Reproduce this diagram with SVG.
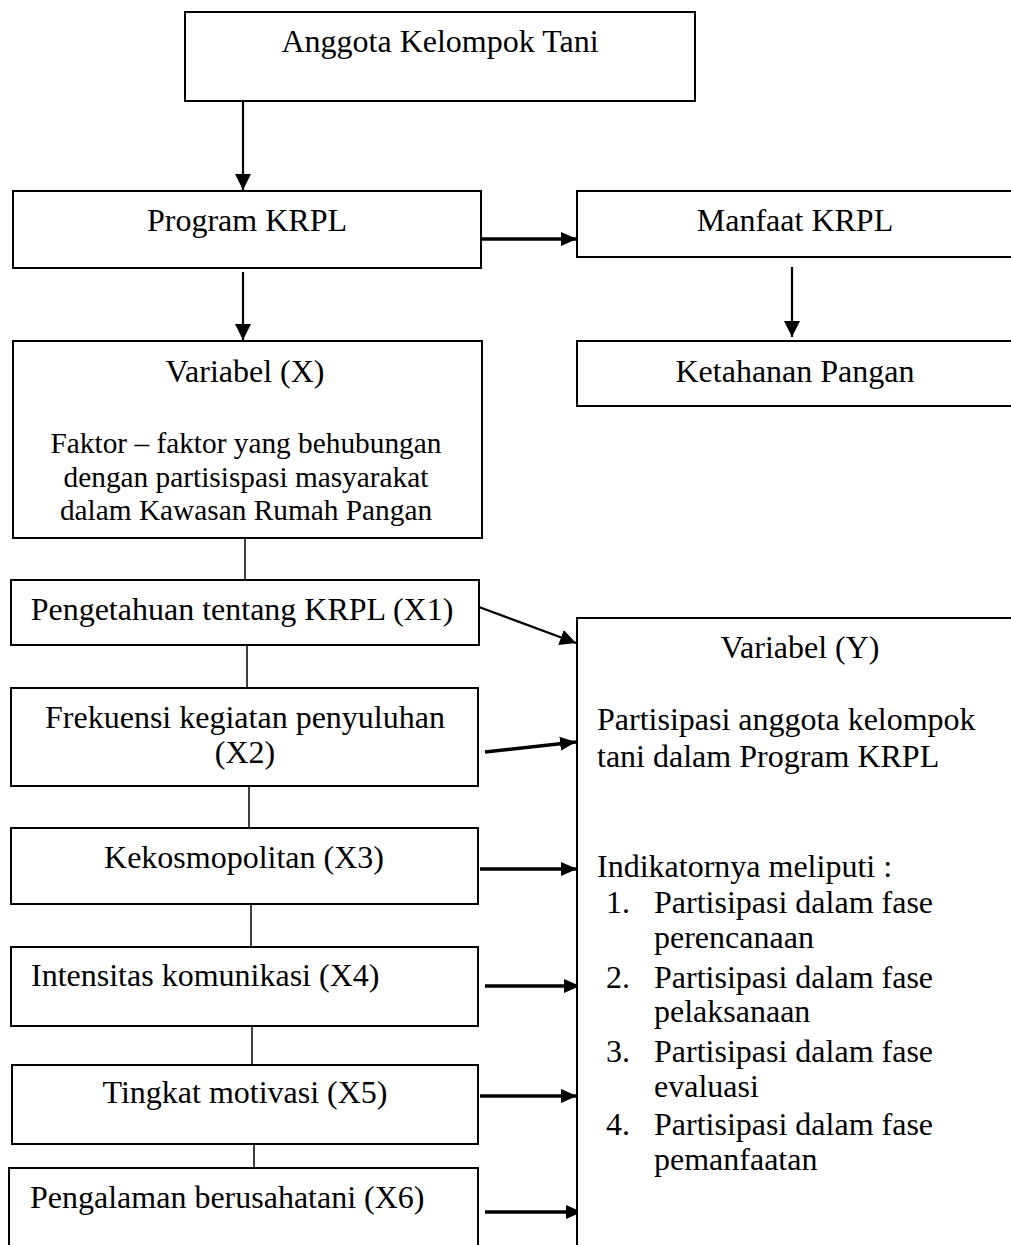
<svg xmlns="http://www.w3.org/2000/svg" width="1011" height="1245" viewBox="0 0 1011 1245">
<style>
  .box { fill: #ffffff; stroke: #000000; stroke-width: 2; }
  .t { font-family: "Liberation Serif", "Times New Roman", serif; font-size: 32px; fill: #000000; }
  .s { font-size: 29.33px; }
  .m { text-anchor: middle; }
  .c { stroke: #000000; fill: none; }
  .thin { stroke-width: 1.5; }
  .v { stroke-width: 2.2; }
  .h { stroke-width: 3.5; }
</style>
<defs>
  <marker id="ah" markerUnits="userSpaceOnUse" markerWidth="16" markerHeight="16" viewBox="0 0 16 16" refX="16" refY="8" orient="auto">
    <path d="M0,0 L16,8 L0,16 Z" fill="#000000"/>
  </marker>
  <marker id="ah2" markerUnits="userSpaceOnUse" markerWidth="16" markerHeight="16" viewBox="0 0 16 16" refX="16" refY="8" orient="auto">
    <path d="M0,1 L16,8 L0,15 Z" fill="#000000"/>
  </marker>
</defs>
<rect width="1011" height="1245" fill="#ffffff"/>

<g id="connectors">
  <line class="c v" x1="243" y1="101" x2="243" y2="190" marker-end="url(#ah)"/>
  <line class="c h" x1="481" y1="239" x2="577" y2="239" marker-end="url(#ah2)"/>
  <line class="c v" x1="243" y1="272" x2="243" y2="340" marker-end="url(#ah)"/>
  <line class="c v" x1="792" y1="267" x2="792" y2="337" marker-end="url(#ah)"/>
  <line class="c thin" x1="245" y1="538" x2="245" y2="580"/>
  <line class="c v" x1="479" y1="607" x2="576" y2="643" marker-end="url(#ah)"/>
  <line class="c thin" x1="247" y1="645" x2="247" y2="688"/>
  <line class="c h" x1="485" y1="752" x2="576" y2="742" marker-end="url(#ah2)"/>
  <line class="c thin" x1="249" y1="786" x2="249" y2="828"/>
  <line class="c h" x1="480" y1="869" x2="577" y2="869" marker-end="url(#ah2)"/>
  <line class="c thin" x1="251" y1="904" x2="251" y2="947"/>
  <line class="c h" x1="485" y1="986" x2="580" y2="986" marker-end="url(#ah2)"/>
  <line class="c thin" x1="252" y1="1026" x2="252" y2="1065"/>
  <line class="c h" x1="480" y1="1096" x2="577" y2="1096" marker-end="url(#ah2)"/>
  <line class="c thin" x1="254" y1="1144" x2="254" y2="1168"/>
  <line class="c h" x1="485" y1="1212" x2="582" y2="1212" marker-end="url(#ah2)"/>
</g>

<g id="anggota">
  <rect class="box" x="185" y="12" width="510" height="89"/>
  <text class="t m" x="440" y="52">Anggota Kelompok Tani</text>
</g>

<g id="program">
  <rect class="box" x="13" y="191" width="468" height="77"/>
  <text class="t m" x="247" y="231">Program KRPL</text>
</g>

<g id="manfaat">
  <rect class="box" x="577" y="191" width="460" height="66"/>
  <text class="t m" x="795" y="231">Manfaat KRPL</text>
</g>

<g id="variabel-x">
  <rect class="box" x="13" y="341" width="469" height="197"/>
  <text class="t m" x="245" y="382">Variabel (X)</text>
  <text class="t s m" x="246" y="453">Faktor – faktor yang behubungan</text>
  <text class="t s m" x="246" y="487">dengan partisispasi masyarakat</text>
  <text class="t s m" x="246" y="520">dalam Kawasan Rumah Pangan</text>
</g>

<g id="ketahanan">
  <rect class="box" x="577" y="341" width="460" height="65"/>
  <text class="t m" x="795" y="382">Ketahanan Pangan</text>
</g>

<g id="x1">
  <rect class="box" x="11" y="580" width="468" height="65"/>
  <text class="t m" x="242" y="620">Pengetahuan tentang KRPL (X1)</text>
</g>

<g id="x2">
  <rect class="box" x="11" y="688" width="467" height="98"/>
  <text class="t m" x="245" y="728">Frekuensi kegiatan penyuluhan</text>
  <text class="t m" x="245" y="763">(X2)</text>
</g>

<g id="x3">
  <rect class="box" x="11" y="828" width="467" height="76"/>
  <text class="t m" x="244" y="868">Kekosmopolitan (X3)</text>
</g>

<g id="x4">
  <rect class="box" x="11" y="947" width="467" height="79"/>
  <text class="t" x="31" y="986">Intensitas komunikasi (X4)</text>
</g>

<g id="x5">
  <rect class="box" x="12" y="1065" width="466" height="79"/>
  <text class="t m" x="245" y="1103">Tingkat motivasi (X5)</text>
</g>

<g id="x6">
  <rect class="box" x="9" y="1168" width="469" height="100"/>
  <text class="t" x="30" y="1208">Pengalaman berusahatani (X6)</text>
</g>

<g id="variabel-y">
  <rect class="box" x="577" y="618" width="460" height="700"/>
  <text class="t m" x="800" y="658">Variabel (Y)</text>
  <text class="t" x="597" y="730">Partisipasi anggota kelompok</text>
  <text class="t" x="597" y="767">tani dalam Program KRPL</text>
  <text class="t" x="597" y="877">Indikatornya meliputi :</text>
  <text class="t" x="606" y="913">1.</text>
  <text class="t" x="654" y="913">Partisipasi dalam fase</text>
  <text class="t" x="654" y="948">perencanaan</text>
  <text class="t" x="606" y="988">2.</text>
  <text class="t" x="654" y="988">Partisipasi dalam fase</text>
  <text class="t" x="654" y="1022">pelaksanaan</text>
  <text class="t" x="606" y="1062">3.</text>
  <text class="t" x="654" y="1062">Partisipasi dalam fase</text>
  <text class="t" x="654" y="1097">evaluasi</text>
  <text class="t" x="606" y="1135">4.</text>
  <text class="t" x="654" y="1135">Partisipasi dalam fase</text>
  <text class="t" x="654" y="1170">pemanfaatan</text>
</g>
</svg>
